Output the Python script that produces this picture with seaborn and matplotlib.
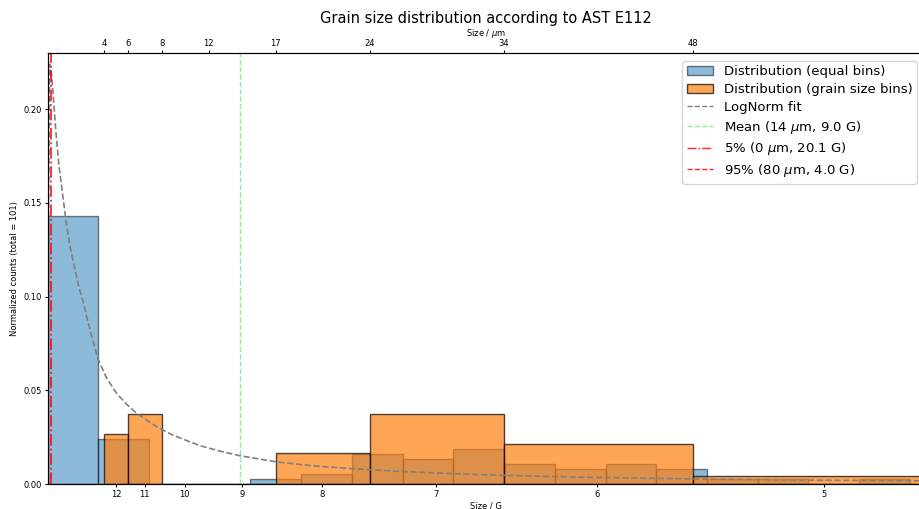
import matplotlib
matplotlib.use("Agg")
import matplotlib.pyplot as plt
import seaborn as sns
import pandas as pd

# --- histogram with equal-width bins (size in micrometres) ---
equal_bin_width = 3.775
equal_bin_start = 0.0
equal_density = [0.1431, 0.0239, 0.0, 0.0, 0.00265, 0.0053, 0.0159, 0.01325,
                 0.01855, 0.0106, 0.0080, 0.0106, 0.0080, 0.00265, 0.00265,
                 0.0, 0.00265]

# --- histogram with ASTM grain-size class bins ---
grain_edges = [4.24, 6.0, 8.49, 12.0, 16.97, 24.0, 33.94, 48.0, 67.88]
grain_edge_labels = ["4", "6", "8", "12", "17", "24", "34", "48"]
grain_density = [0.0265, 0.0372, 0.0, 0.0, 0.0164, 0.0373, 0.0215, 0.0043]

# --- log-normal fit curve (size in micrometres, density) ---
fit_x = [0.03, 0.08, 0.15, 0.25, 0.4, 0.6, 0.85, 1.17, 1.42, 1.7, 2.0, 2.3,
         2.66, 3.2, 3.77, 4.4, 5.14, 5.9, 6.63, 7.4, 8.11, 9.2, 10.35, 11.33,
         12.8, 14.31, 17.04, 19.5, 22.0, 25.5, 29.2, 33.9, 40.0, 47.9, 56.0,
         65.3]
fit_y = [0.02, 0.15, 0.224, 0.222, 0.21, 0.19, 0.17, 0.152, 0.138, 0.126,
         0.116, 0.106, 0.097, 0.081, 0.0665, 0.0565, 0.0484, 0.0425, 0.0377,
         0.034, 0.0306, 0.0265, 0.0232, 0.0205, 0.0176, 0.0151, 0.0118,
         0.0099, 0.0085, 0.0070, 0.0058, 0.0046, 0.0036, 0.0027, 0.0021,
         0.0017]

# --- summary statistics ---
mean_um, mean_G = 14.36, 9.0
p5_um, p5_G = 0.25, 20.1
p95_um, p95_G = 80.0, 4.0
total_grains = 101

# ASTM G number ticks on the bottom axis
g_numbers = [12, 11, 10, 9, 8, 7, 6, 5]
G9_SIZE_UM = 14.45


def g_to_um(g):
    return G9_SIZE_UM * 2.0 ** ((9.0 - g) / 2.0)


n_equal = len(equal_density)
equal_edges = [equal_bin_start + equal_bin_width * i for i in range(n_equal + 1)]
equal_centers = [0.5 * (a + b) for a, b in zip(equal_edges[:-1], equal_edges[1:])]
grain_centers = [0.5 * (a + b) for a, b in zip(grain_edges[:-1], grain_edges[1:])]

df_equal = pd.DataFrame({"size": equal_centers, "density": equal_density})
df_grain = pd.DataFrame({"size": grain_centers, "density": grain_density})

W, H = 919, 509
fig = plt.figure(figsize=(W / 100, H / 100), dpi=100)
ax = fig.add_axes([47.5 / W, 1 - 484 / H, (925 - 47.5) / W, (484 - 53) / H])

sns.histplot(data=df_equal, x="size", weights="density", bins=equal_edges,
             stat="count", color="#1f77b4", alpha=0.5,
             edgecolor=(0, 0, 0, 0.5), linewidth=1.0, ax=ax)
sns.histplot(data=df_grain, x="size", weights="density", bins=grain_edges,
             stat="count", color="#ff7f0e", alpha=0.7,
             edgecolor=(0, 0, 0, 0.7), linewidth=1.0, ax=ax)

fit_line, = ax.plot(fit_x, fit_y, color="grey", linestyle="--", linewidth=1.2)
mean_line = ax.axvline(mean_um, color="lightgreen", linestyle="--", linewidth=1.0)
p5_line = ax.axvline(p5_um, color="red", linestyle="-.", linewidth=1.3,
                     alpha=0.85)
p95_line = ax.axvline(p95_um, color="red", linestyle="--", linewidth=1.3,
                      alpha=0.85)

ax.set_xlim(0, 65.3)
ax.set_ylim(0, 0.23)
ax.set_yticks([0.0, 0.05, 0.10, 0.15, 0.20])
ax.set_yticklabels(["0.00", "0.05", "0.10", "0.15", "0.20"])
ax.set_xticks([g_to_um(g) for g in g_numbers])
ax.set_xticklabels([str(g) for g in g_numbers])
ax.tick_params(labelsize=6, length=2.2, width=0.8, pad=1.8)
ax.set_xlabel("Size / G", fontsize=6, labelpad=2)
ax.set_ylabel(f"Normalized counts (total = {total_grains})", fontsize=6,
              labelpad=3)

top = ax.twiny()
top.set_xlim(ax.get_xlim())
top.set_xticks(grain_edges[:-1])
top.set_xticklabels(grain_edge_labels)
top.tick_params(labelsize=6, length=2.2, width=0.8, pad=1.2)
top.set_xlabel("Size / $\\mu$m", fontsize=6, labelpad=2.5)

for a in (ax, top):
    for s in a.spines.values():
        s.set_linewidth(0.8)

fig.text(486 / W, 1 - 18 / H, "Grain size distribution according to AST E112",
         fontsize=10.5, ha="center", va="center")

handles = [ax.containers[0], ax.containers[1], fit_line, mean_line, p5_line,
           p95_line]
labels = ["Distribution (equal bins)",
          "Distribution (grain size bins)",
          "LogNorm fit",
          f"Mean ({mean_um:.0f} $\\mu$m, {mean_G:.1f} G)",
          f"5% ({p5_um:.0f} $\\mu$m, {p5_G:.1f} G)",
          f"95% ({p95_um:.0f} $\\mu$m, {p95_G:.1f} G)"]
leg = ax.legend(handles, labels, loc="upper right", fontsize=9.5,
                bbox_to_anchor=(0.9985, 0.9975), labelspacing=0.36,
                borderpad=0.35)
for h in leg.legend_handles[2:]:
    h.set_linewidth(1.0)

fig.savefig("out.png", dpi=100)
